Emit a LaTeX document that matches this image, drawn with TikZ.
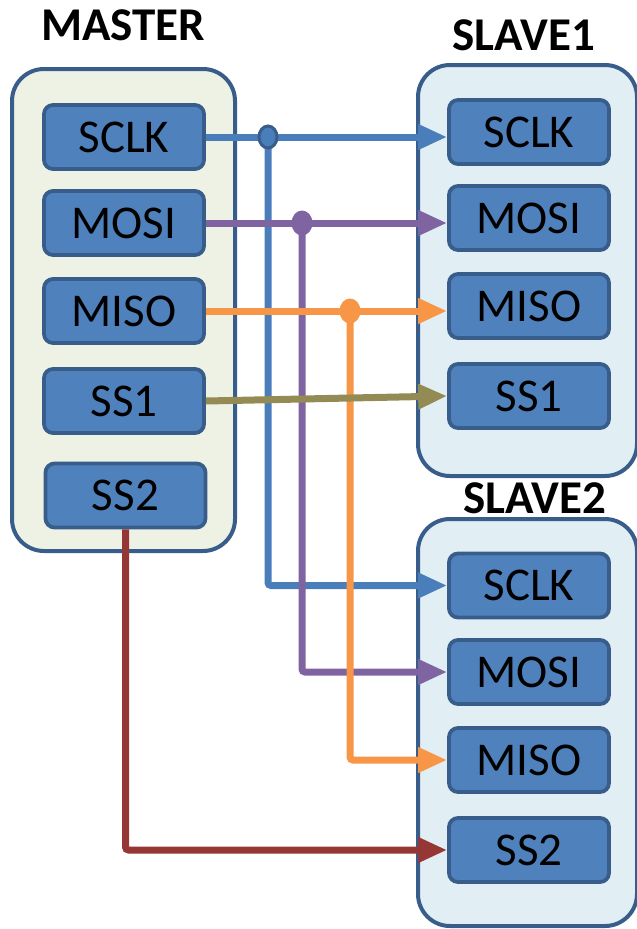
\documentclass[tikz,border=0pt]{standalone}
\usepackage{fontspec}
\setmainfont{Carlito}
\usetikzlibrary{arrows.meta,shapes.geometric}

\definecolor{frame}{HTML}{385D8A}
\definecolor{pinfill}{HTML}{4F81BD}
\definecolor{masterfill}{HTML}{EEF2E4}
\definecolor{slavefill}{HTML}{E1EFF4}
\definecolor{sclkc}{HTML}{4A7EBB}
\definecolor{mosic}{HTML}{8064A2}
\definecolor{misoc}{HTML}{F79646}
\definecolor{ssonec}{HTML}{948A54}
\definecolor{sstwoc}{HTML}{953735}

\tikzset{
  device/.style={draw=frame, line width=4pt, rounded corners=32pt, inner sep=0pt},
  pinbox/.style={draw=frame, fill=pinfill, line width=3.8pt, rounded corners=9pt,
    minimum width=160pt, minimum height=64pt, inner sep=0pt,
    font=\fontsize{47}{56}\selectfont},
  title/.style={anchor=base, inner sep=0pt, font=\fontsize{47}{56}\selectfont\bfseries},
  wire/.style={line width=7pt, rounded corners=3pt, -{Triangle[length=29pt,width=24pt]}},
  junction/.style={ellipse, inner sep=0pt, minimum width=21pt, minimum height=25pt},
}

\begin{document}
\begin{tikzpicture}[x=1pt,y=-1pt]
\useasboundingbox (0,0) rectangle (637,929);
\clip (0,0) rectangle (637,929);

% device outlines
\node[device, fill=masterfill, minimum width=223pt, minimum height=482pt] (master) at (123.5,310) {};
\node[device, fill=slavefill, minimum width=219pt, minimum height=411pt] (slaveA) at (527.5,270.5) {};
\node[device, fill=slavefill, minimum width=219pt, minimum height=407pt] (slaveB) at (527.5,722.5) {};

% titles
\node[title] (tmaster) at (123,40) {MASTER};
\node[title] (tslaveA) at (524,50) {SLAVE1};
\node[title] (tslaveB) at (535,513) {SLAVE2};

% master pins
\node[pinbox] (msclk) at (124,137) {SCLK};
\node[pinbox] (mmosi) at (124,223) {MOSI};
\node[pinbox] (mmiso) at (124,311) {MISO};
\node[pinbox] (mssA)  at (124,401) {SS1};
\node[pinbox] (mssB)  at (125.5,495.5) {SS2};

% slave 1 pins
\node[pinbox] (asclk) at (529,132) {SCLK};
\node[pinbox] (amosi) at (529,218) {MOSI};
\node[pinbox] (amiso) at (529,306) {MISO};
\node[pinbox] (assA)  at (529,396) {SS1};

% slave 2 pins
\node[pinbox] (bsclk) at (529,585.5) {SCLK};
\node[pinbox] (bmosi) at (529,672) {MOSI};
\node[pinbox] (bmiso) at (529,760) {MISO};
\node[pinbox] (bssB)  at (529,850) {SS2};

% branch points on the shared lines
\coordinate (jsclk) at (268,137);
\coordinate (jmosi) at (302,223);
\coordinate (jmiso) at (350,311);

% SCLK
\draw[wire, sclkc] (msclk.east) -- (msclk.east -| asclk.west);
\draw[wire, sclkc] (jsclk) |- (bsclk.west);
\node[junction, draw=frame, fill=sclkc, line width=3pt, minimum width=18pt, minimum height=22pt] (dsclk) at (jsclk) {};

% MOSI
\draw[wire, mosic] (mmosi.east) -- (mmosi.east -| amosi.west);
\draw[wire, mosic] (jmosi) |- (bmosi.west);
\node[junction, fill=mosic] (dmosi) at (jmosi) {};

% MISO
\draw[wire, misoc] (mmiso.east) -- (mmiso.east -| amiso.west);
\draw[wire, misoc] (jmiso) |- (bmiso.west);
\node[junction, fill=misoc] (dmiso) at (jmiso) {};

% slave selects
\draw[wire, ssonec] (mssA.east) -- (assA.west);
\draw[wire, sstwoc] (mssB.south) |- (bssB.west);
\end{tikzpicture}
\end{document}
